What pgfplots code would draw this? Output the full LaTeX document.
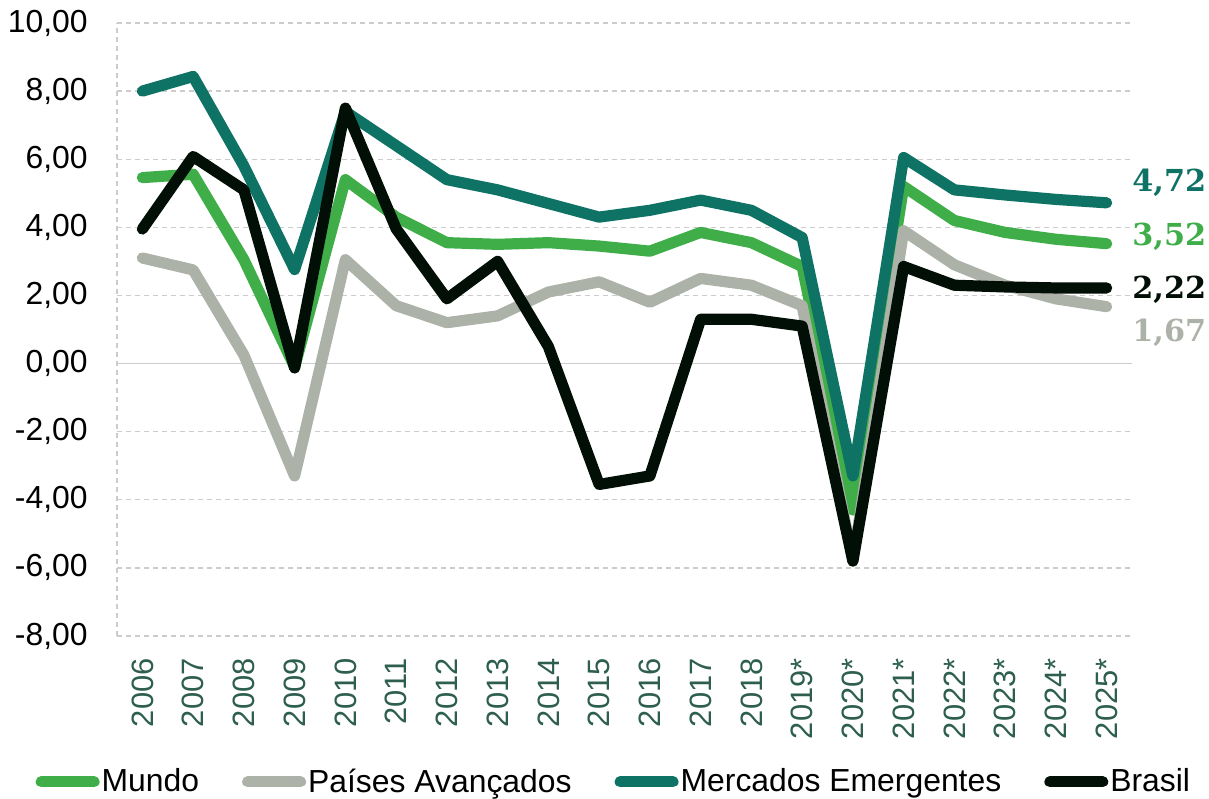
\documentclass[border=0pt]{standalone}
\usepackage{pgfplots}
\pgfplotsset{compat=1.18}
\usepackage{fontspec}
\setmainfont{Liberation Sans}
\newfontfamily\labfont{DejaVu Serif}
\definecolor{mundo}{HTML}{3FAE49}
\definecolor{avanc}{HTML}{ADB2A9}
\definecolor{emerg}{HTML}{0E7264}
\definecolor{brasil}{HTML}{010F06}
\definecolor{xlab}{HTML}{2E5E4F}
\definecolor{gridc}{HTML}{CCCCCC}
\begin{document}
\begin{tikzpicture}
\path[use as bounding box] (0,0) rectangle (604.5bp,399.5bp);
\begin{axis}[
  at={(58.5bp,81.5bp)}, anchor=south west,
  scale only axis, width=507.5bp, height=306.5bp,
  xmin=-0.5, xmax=19.5, ymin=-8, ymax=10,
  axis line style={draw=none},
  ytick={-8,-6,...,10},
  yticklabels={{-8,00},{-6,00},{-4,00},{-2,00},{0,00},{2,00},{4,00},{6,00},{8,00},{10,00}},
  xtick={0,...,19},
  xticklabels={2006,2007,2008,2009,2010,2011,2012,2013,2014,2015,2016,2017,2018,2019*,2020*,2021*,2022*,2023*,2024*,2025*},
  major tick length=0pt,
  ymajorgrids,
  major grid style={gridc, dash pattern=on 2.5bp off 2bp, line width=0.7bp},
  extra y ticks={0}, extra y tick labels={},
  extra y tick style={major grid style={gridc, solid, line width=0.8bp}},
  extra x ticks={-0.5}, extra x tick labels={},
  extra x tick style={grid=major, major grid style={gridc, dash pattern=on 2.5bp off 2bp, line width=0.7bp}},
  yticklabel style={anchor=east, inner sep=0pt, xshift=-14.5bp, font=\fontsize{16}{19}\selectfont},
  xticklabel style={yshift=-11bp, rotate=90, anchor=east, inner sep=0pt, text=xlab, font=\fontsize{15.5}{18}\selectfont},
  clip=false,
  legend columns=4,
  legend style={at={(0.4895,-0.238)}, anchor=center, draw=none, fill=none,
    font=\fontsize{16}{19}\selectfont,
    /tikz/every even column/.append style={column sep=20.5bp},
    inner sep=0pt, nodes={inner sep=1bp}},
  legend image code/.code={\draw[#1, line width=5.5bp, line cap=round] (2.75bp,0bp) -- (29.25bp,0bp);},
  every axis plot/.append style={line width=5.6bp, line join=round, line cap=round},
]
\addplot[mundo] coordinates {
(0,5.46) (1,5.56) (2,3.05) (3,-0.1) (4,5.4) (5,4.3) (6,3.55) (7,3.5) (8,3.55) (9,3.45)
(10,3.3) (11,3.85) (12,3.55) (13,2.85) (14,-4.3) (15,5.2) (16,4.2) (17,3.85) (18,3.65) (19,3.52)};
\addlegendentry{Mundo}
\addplot[avanc] coordinates {
(0,3.1) (1,2.75) (2,0.25) (3,-3.3) (4,3.05) (5,1.7) (6,1.2) (7,1.4) (8,2.1) (9,2.4)
(10,1.8) (11,2.5) (12,2.3) (13,1.7) (14,-5.8) (15,3.9) (16,2.9) (17,2.3) (18,1.9) (19,1.67)};
\addlegendentry{Países Avançados}
\addplot[emerg] coordinates {
(0,8.0) (1,8.43) (2,5.8) (3,2.76) (4,7.4) (5,6.4) (6,5.4) (7,5.1) (8,4.7) (9,4.3)
(10,4.5) (11,4.8) (12,4.5) (13,3.7) (14,-3.3) (15,6.05) (16,5.1) (17,4.95) (18,4.82) (19,4.72)};
\addlegendentry{Mercados Emergentes}
\addplot[brasil] coordinates {
(0,3.95) (1,6.08) (2,5.1) (3,-0.13) (4,7.5) (5,3.96) (6,1.9) (7,3.0) (8,0.5) (9,-3.55)
(10,-3.3) (11,1.3) (12,1.3) (13,1.1) (14,-5.8) (15,2.85) (16,2.3) (17,2.25) (18,2.22) (19,2.22)};
\addlegendentry{Brasil}
\node[anchor=west, inner sep=0pt, text=emerg, font=\labfont\bfseries\fontsize{15.2}{18}\selectfont] at (axis cs:19.5,5.31) {4,72};
\node[anchor=west, inner sep=0pt, text=mundo, font=\labfont\bfseries\fontsize{15.2}{18}\selectfont] at (axis cs:19.5,3.73) {3,52};
\node[anchor=west, inner sep=0pt, text=brasil, font=\labfont\bfseries\fontsize{15.2}{18}\selectfont] at (axis cs:19.5,2.17) {2,22};
\node[anchor=west, inner sep=0pt, text=avanc, font=\labfont\bfseries\fontsize{15.2}{18}\selectfont] at (axis cs:19.5,0.91) {1,67};
\end{axis}
\end{tikzpicture}
\end{document}
